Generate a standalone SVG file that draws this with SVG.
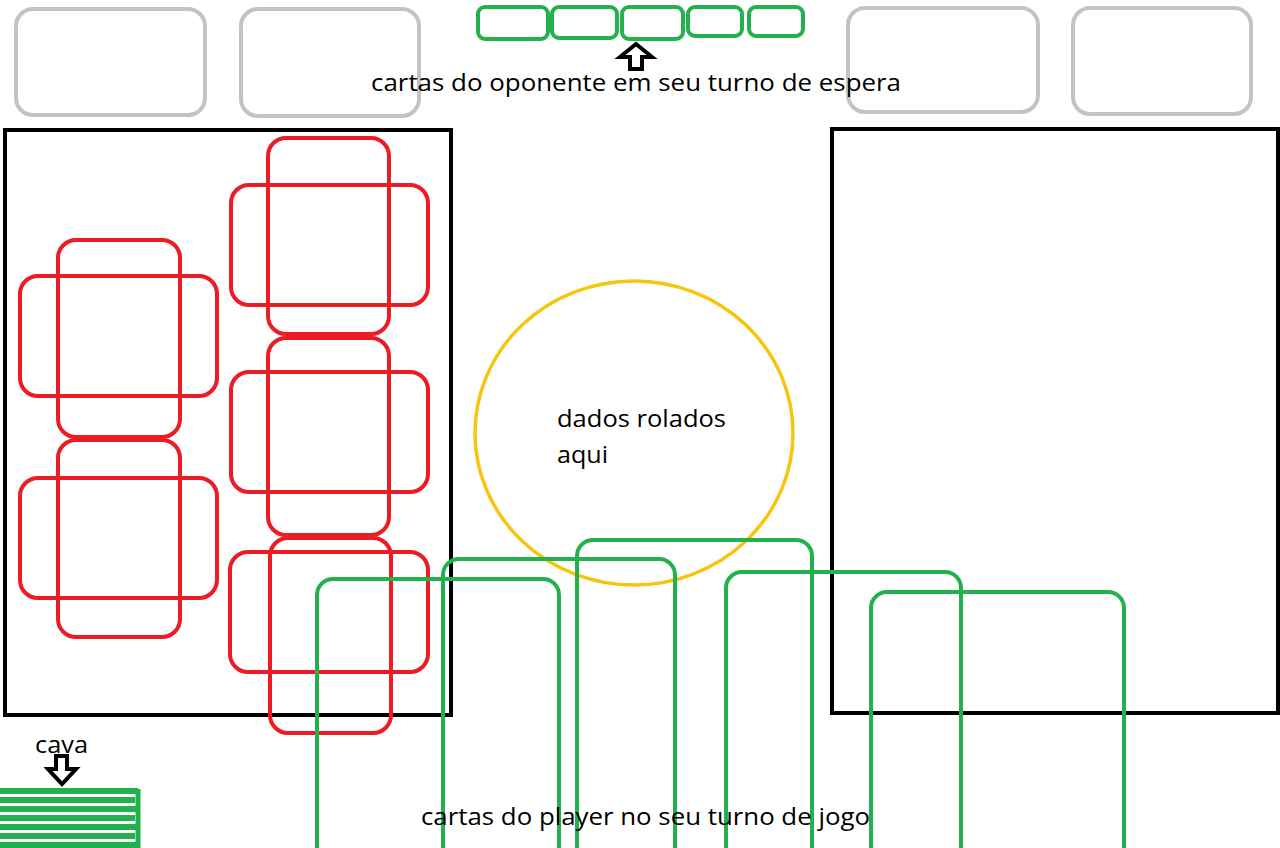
<svg xmlns="http://www.w3.org/2000/svg" width="1280" height="848" viewBox="0 0 1280 848">
<style>
.gray{fill:none;stroke:#c3c3c3;stroke-width:4}
.board{fill:none;stroke:#000;stroke-width:4}
.red{fill:none;stroke:#ed1c24;stroke-width:4}
.green{fill:none;stroke:#22b14c;stroke-width:4}
.gsmall{fill:none;stroke:#22b14c;stroke-width:4}
.dice{fill:none;stroke:#f7c40f;stroke-width:3.5}
.lbl{font-family:"Open Sans","Noto Sans","Liberation Sans",sans-serif;font-size:23px;fill:#000}
.arrow{fill:#fff;stroke:#000;stroke-width:4;stroke-linejoin:miter}
.stack{stroke:#22b14c;stroke-width:6;fill:none}
</style>
<rect width="1280" height="848" fill="#fff"/>
<g id="opponent-slots">
<rect class="gray" x="16" y="9" width="189" height="106" rx="17"/>
<rect class="gray" x="241" y="9" width="178" height="107" rx="17"/>
<rect class="gray" x="848" y="8" width="190" height="104" rx="17"/>
<rect class="gray" x="1073" y="8" width="178" height="106" rx="17"/>
</g>
<g id="opponent-hand">
<rect class="gsmall" x="478" y="7" width="70" height="32" rx="7"/>
<rect class="gsmall" x="552" y="7" width="65" height="31" rx="7"/>
<rect class="gsmall" x="622" y="7" width="61" height="32" rx="7"/>
<rect class="gsmall" x="688" y="7" width="54" height="29" rx="7"/>
<rect class="gsmall" x="749" y="7" width="54" height="29" rx="7"/>
</g>
<g id="label-opponent">
<text class="lbl" x="371" y="91" textLength="530" lengthAdjust="spacingAndGlyphs">cartas do oponente em seu turno de espera</text>
</g>
<g id="board-left">
<rect class="board" x="5" y="130" width="446" height="585"/>
</g>
<g id="board-right">
<rect class="board" x="832" y="129" width="446" height="584"/>
</g>
<g id="dice-area">
<ellipse class="dice" cx="634" cy="433" rx="159" ry="152"/>
<text class="lbl" x="557" y="427" textLength="169" lengthAdjust="spacingAndGlyphs">dados rolados</text>
<text class="lbl" x="557" y="463" textLength="51" lengthAdjust="spacingAndGlyphs">aqui</text>
</g>
<g id="dice-left-top">
<rect class="red" x="58" y="240" width="122" height="197" rx="18"/>
<rect class="red" x="20" y="276" width="197" height="120" rx="18"/>
</g>
<g id="dice-left-bottom">
<rect class="red" x="58" y="440" width="122" height="197" rx="18"/>
<rect class="red" x="20" y="478" width="197" height="120" rx="18"/>
</g>
<g id="dice-right-top">
<rect class="red" x="268" y="138" width="121" height="196" rx="18"/>
<rect class="red" x="231" y="185" width="197" height="120" rx="18"/>
</g>
<g id="dice-right-mid">
<rect class="red" x="268" y="338" width="121" height="197" rx="18"/>
<rect class="red" x="231" y="372" width="197" height="120" rx="18"/>
</g>
<g id="dice-right-bottom">
<rect class="red" x="270" y="538" width="121" height="195" rx="18"/>
<rect class="red" x="230" y="552" width="198" height="120" rx="18"/>
</g>
<g id="player-hand">
<rect class="green" x="317" y="579" width="242" height="400" rx="16"/>
<rect class="green" x="443" y="559" width="232" height="400" rx="16"/>
<rect class="green" x="577" y="540" width="235" height="400" rx="16"/>
<rect class="green" x="726" y="572" width="235" height="400" rx="16"/>
<rect class="green" x="871" y="592" width="253" height="400" rx="16"/>
</g>
<g id="label-player">
<text class="lbl" x="421" y="825" textLength="449" lengthAdjust="spacingAndGlyphs">cartas do player no seu turno de jogo</text>
</g>
<g id="deck">
<text class="lbl" x="35" y="753" textLength="53" lengthAdjust="spacingAndGlyphs">cava</text>
<path class="stack" d="M-5 791H138M-5 800H135M-5 809H136M-5 818H135M-5 827H136M-5 836H135M-5 845H136"/>
<path d="M138 789V848" stroke="#22b14c" stroke-width="5" fill="none"/>
</g>
<g id="connectors">
<polygon class="arrow" points="636,44 652,57 642,57 642,69 630,69 630,57 620,57"/>
<polygon class="arrow" points="56,756 67,756 67,769 76,769 62,784 48,769 56,769"/>
</g>
</svg>
